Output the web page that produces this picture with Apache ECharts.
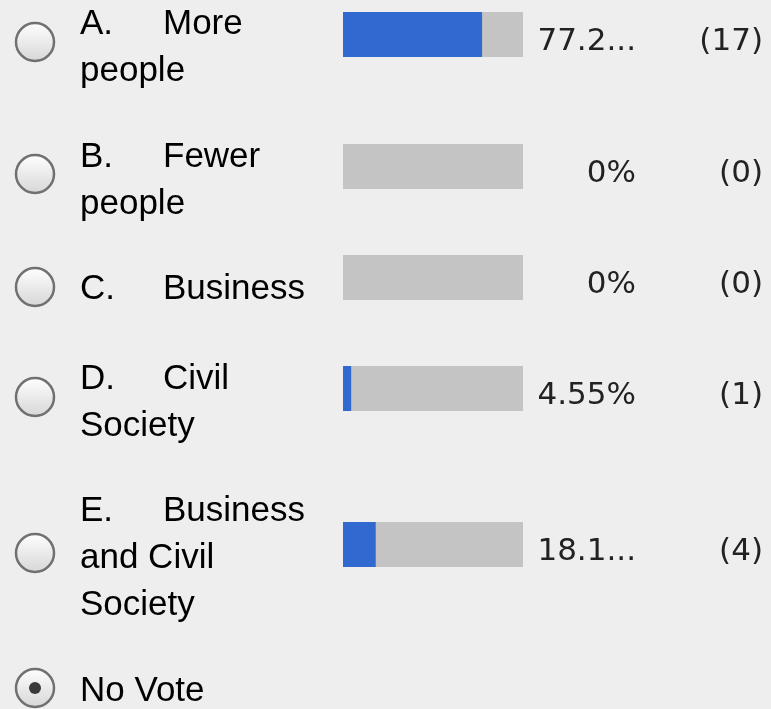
<!DOCTYPE html>
<html>
<head>
<meta charset="utf-8">
<script src="https://cdn.jsdelivr.net/npm/echarts@6/dist/echarts.min.js"></script>
<style>
  html, body { margin: 0; padding: 0; background: #eeeeee; }
  #chart { width: 771px; height: 709px; }
</style>
</head>
<body>
<div id="chart"></div>
<script>
// poll data
const letters = ["A.", "B.", "C.", "D.", "E."];
const optionText = ["More\npeople", "Fewer\npeople", "Business", "Civil\nSociety", "Business\nand Civil\nSociety"];
const percents = [77.27, 0, 0, 4.55, 18.18];
const counts = [17, 0, 0, 1, 4];
const noVoteText = "No Vote";

// layout (px)
const barTop = [12, 144, 255, 366, 522];
const textBase = [33, 166, 298, 388, 520];
const radioY = [42, 174, 287, 397, 553];

const LEFT_FONT = "Liberation Sans";
const RIGHT_FONT = "DejaVu Sans";

const fmtPct = (v) => {
    let s = String(v) + "%";
    return s.length > 5 ? s.slice(0, 4) + "..." : s;
};

const radio = (cy, checked) => {
    const els = [{
        type: "circle",
        shape: { cx: 35, cy: cy, r: 19 },
        style: {
            fill: new echarts.graphic.LinearGradient(0, 0, 0, 1, [
                { offset: 0, color: "#ffffff" },
                { offset: 1, color: "#d6d6d6" },
            ]),
            stroke: "#707070",
            lineWidth: 2.5,
        },
    }];
    if (checked) {
        els.push({
            type: "circle",
            shape: { cx: 35, cy: cy, r: 6 },
            style: { fill: "#3a3a3a" },
        });
    }
    return els;
};

const textEl = (base, letter, body) => {
    const lines = body.split("\n");
    let txt = lines.map((t) => `{b|${t}}`);
    if (letter) txt[0] = `{k|${letter}}` + txt[0];
    return {
        type: "text",
        x: 80,
        y: base - 32,
        style: {
            text: txt.join("\n"),
            fontFamily: LEFT_FONT,
            fontSize: 35,
            fill: "#000",
            lineHeight: 47,
            verticalAlign: "top",
            rich: {
                k: { width: 83, fontFamily: LEFT_FONT, fontSize: 35, fill: "#000", lineHeight: 47 },
                b: { fontFamily: LEFT_FONT, fontSize: 35, fill: "#000", lineHeight: 47 },
            },
        },
    };
};

const grids = [], xAxes = [], yAxes = [], series = [];
letters.forEach((l, i) => {
    grids.push({ left: 343, width: 180, top: barTop[i], height: 45 });
    xAxes.push({ type: "value", gridIndex: i, min: 0, max: 100, show: false });
    yAxes.push({
        type: "category",
        gridIndex: i,
        data: [l],
        position: "right",
        axisLine: { show: false },
        axisTick: { show: false },
        axisLabel: {
            margin: 0,
            align: "left",
            padding: [14, 0, 0, 0],
            formatter: () => `{p|${fmtPct(percents[i])}}{c|(${counts[i]})}`,
            rich: {
                p: { width: 113, align: "right", fontFamily: RIGHT_FONT, fontSize: 31, color: "#222" },
                c: { width: 127, align: "right", fontFamily: RIGHT_FONT, fontSize: 31, color: "#222" },
            },
        },
    });
    series.push({
        type: "bar",
        xAxisIndex: i,
        yAxisIndex: i,
        data: [percents[i]],
        barWidth: 45,
        showBackground: true,
        backgroundStyle: { color: "#c4c4c4" },
        itemStyle: { color: "#3169d1" },
        silent: true,
    });
});

let graphics = [];
letters.forEach((l, i) => {
    graphics = graphics.concat(radio(radioY[i], false));
    graphics.push(textEl(textBase[i], l, optionText[i]));
});
graphics = graphics.concat(radio(688, true));
graphics.push(textEl(700, null, noVoteText));

const chart = echarts.init(document.getElementById("chart"));
chart.setOption({
    backgroundColor: "#eeeeee",
    animation: false,
    grid: grids,
    xAxis: xAxes,
    yAxis: yAxes,
    series: series,
    graphic: graphics,
});
</script>
</body>
</html>
